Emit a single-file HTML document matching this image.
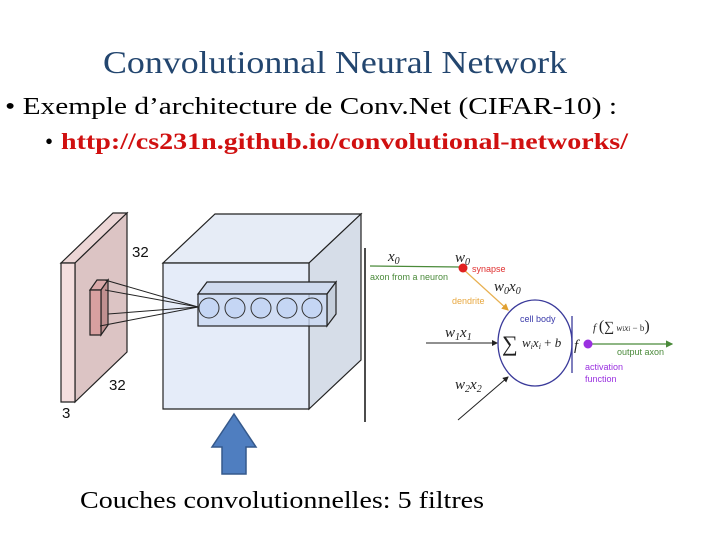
<!DOCTYPE html>
<html><head><meta charset="utf-8"><style>
html,body{margin:0;padding:0;background:#fff;}
svg{display:block;}
</style></head><body>
<svg width="720" height="540" viewBox="0 0 720 540" xmlns="http://www.w3.org/2000/svg">
<g font-family="Liberation Serif, serif">
<text x="103" y="73" font-size="32" fill="#23466f" textLength="464" lengthAdjust="spacingAndGlyphs">Convolutionnal Neural Network</text>
<text x="5" y="114" font-size="24" fill="#000" textLength="612" lengthAdjust="spacingAndGlyphs">• Exemple d’architecture de Conv.Net  (CIFAR-10) :</text>
<text x="45" y="149" font-size="23" fill="#000">•</text>
<text x="61" y="149" font-size="23" font-weight="bold" fill="#d01010" textLength="567" lengthAdjust="spacingAndGlyphs">http://cs231n.github.io/convolutional-networks/</text>
<text x="80" y="508" font-size="24" fill="#000" textLength="404" lengthAdjust="spacingAndGlyphs">Couches convolutionnelles: 5 filtres</text>
</g>
<!-- slab -->
<g stroke="#222" stroke-width="1.2">
<polygon points="61,263 113,213 127,213 75,263" fill="#ecd6d6"/>
<polygon points="75,263 127,213 127,352 75,402" fill="#dcc4c4"/>
<polygon points="61,263 75,263 75,402 61,402" fill="#f4dede"/>
<polygon points="90,290 97,280 108,280 101,290" fill="#d9a9a9"/>
<polygon points="101,290 108,280 108,325 101,335" fill="#c09090"/>
<polygon points="90,290 101,290 101,335 90,335" fill="#d8a0a0"/>
</g>
<g font-family="Liberation Sans, sans-serif" font-size="15" fill="#111">
<text x="132" y="257">32</text>
<text x="109" y="390">32</text>
<text x="62" y="418">3</text>
</g>
<!-- cube -->
<g stroke="#222" stroke-width="1.2">
<polygon points="163,263 215,214 361,214 309,263" fill="#e6ecf6"/>
<polygon points="309,263 361,214 361,360 309,409" fill="#d6dde8"/>
<polygon points="163,263 309,263 309,409 163,409" fill="#e2eaf8" fill-opacity="0.9"/>
<polygon points="198,294 207,282 336,282 327,294" fill="#cfdaee"/>
<polygon points="327,294 336,282 336,314 327,326" fill="#c6cfdc"/>
<rect x="198" y="294" width="129" height="32" fill="#cbd9f2" fill-opacity="0.8"/>
<g fill="#c5d6f4" stroke="#333" stroke-width="1">
<circle cx="209" cy="308" r="10"/><circle cx="235" cy="308" r="10"/><circle cx="261" cy="308" r="10"/><circle cx="287" cy="308" r="10"/><circle cx="312" cy="308" r="10"/>
</g>
</g>
<g stroke="#222" stroke-width="1">
<line x1="105" y1="280" x2="198" y2="307"/>
<line x1="105" y1="290" x2="198" y2="307"/>
<line x1="108" y1="314" x2="198" y2="307"/>
<line x1="100" y1="326" x2="198" y2="307"/>
</g>
<line x1="365" y1="248" x2="365" y2="422" stroke="#111" stroke-width="1.5"/>
<!-- blue arrow -->
<polygon points="234,414 256,447 246,447 246,474 222,474 222,447 212,447" fill="#4f7ec0" stroke="#35598c" stroke-width="1.5"/>
<!-- neuron -->
<defs>
<marker id="ag" markerWidth="6" markerHeight="6" refX="5" refY="3" orient="auto"><path d="M0,0 L6,3 L0,6z" fill="#4a8a3a"/></marker>
<marker id="ak" markerWidth="6" markerHeight="6" refX="5" refY="3" orient="auto"><path d="M0,0 L6,3 L0,6z" fill="#222"/></marker>
<marker id="ao" markerWidth="6" markerHeight="6" refX="5" refY="3" orient="auto"><path d="M0,0 L6,3 L0,6z" fill="#e0a030"/></marker>
</defs>
<line x1="370" y1="266" x2="460" y2="267" stroke="#4a8a3a" stroke-width="1.2"/>
<line x1="463" y1="269" x2="508" y2="310" stroke="#e8b050" stroke-width="1.2" marker-end="url(#ao)"/>
<line x1="426" y1="343" x2="497" y2="343" stroke="#222" stroke-width="1" marker-end="url(#ak)"/>
<line x1="458" y1="420" x2="508" y2="377" stroke="#222" stroke-width="1" marker-end="url(#ak)"/>
<ellipse cx="535" cy="343" rx="37" ry="43" fill="#fff" stroke="#3a3a9a" stroke-width="1.3"/>
<line x1="572" y1="316" x2="572" y2="373" stroke="#3a3a9a" stroke-width="1.3"/>
<line x1="592" y1="344" x2="672" y2="344" stroke="#4a8a3a" stroke-width="1.2" marker-end="url(#ag)"/>
<circle cx="463" cy="268" r="4.5" fill="#e02020"/>
<circle cx="588" cy="344" r="4.5" fill="#9a30e0"/>
<g font-family="Liberation Serif, serif" font-style="italic" fill="#222">
<text x="388" y="261" font-size="15">x<tspan font-size="10" dy="3">0</tspan></text>
<text x="455" y="262" font-size="15">w<tspan font-size="10" dy="3">0</tspan></text>
<text x="494" y="291" font-size="15">w<tspan font-size="10" dy="3">0</tspan><tspan dy="-3">x</tspan><tspan font-size="10" dy="3">0</tspan></text>
<text x="445" y="337" font-size="15">w<tspan font-size="10" dy="3">1</tspan><tspan dy="-3">x</tspan><tspan font-size="10" dy="3">1</tspan></text>
<text x="455" y="389" font-size="15">w<tspan font-size="10" dy="3">2</tspan><tspan dy="-3">x</tspan><tspan font-size="10" dy="3">2</tspan></text>
<text x="502" y="351" font-size="22" font-style="normal">∑</text>
<text x="522" y="347" font-size="13">w<tspan font-size="8" dy="2">i</tspan><tspan dy="-2">x</tspan><tspan font-size="8" dy="2">i</tspan><tspan dy="-2" font-style="normal"> + </tspan>b</text>
<text x="574" y="350" font-size="15">f</text>
<text x="593" y="331" font-size="11">f <tspan font-size="16" font-style="normal">(</tspan><tspan font-size="14" font-style="normal">∑</tspan><tspan font-size="9"> w</tspan><tspan font-size="7">i</tspan><tspan font-size="9">x</tspan><tspan font-size="7">i</tspan><tspan font-size="9" font-style="normal"> − b</tspan><tspan font-size="16" font-style="normal">)</tspan></text>
</g>
<g font-family="Liberation Sans, sans-serif" font-size="9">
<text x="472" y="272" fill="#e03030">synapse</text>
<text x="370" y="280" fill="#4a8a3a">axon from a neuron</text>
<text x="452" y="304" fill="#e8a840">dendrite</text>
<text x="520" y="322" fill="#3a3aaa">cell body</text>
<text x="617" y="355" fill="#4a8a3a">output axon</text>
<text x="585" y="370" fill="#9a30e0">activation</text>
<text x="585" y="382" fill="#9a30e0">function</text>
</g>
</svg>
</body></html>
